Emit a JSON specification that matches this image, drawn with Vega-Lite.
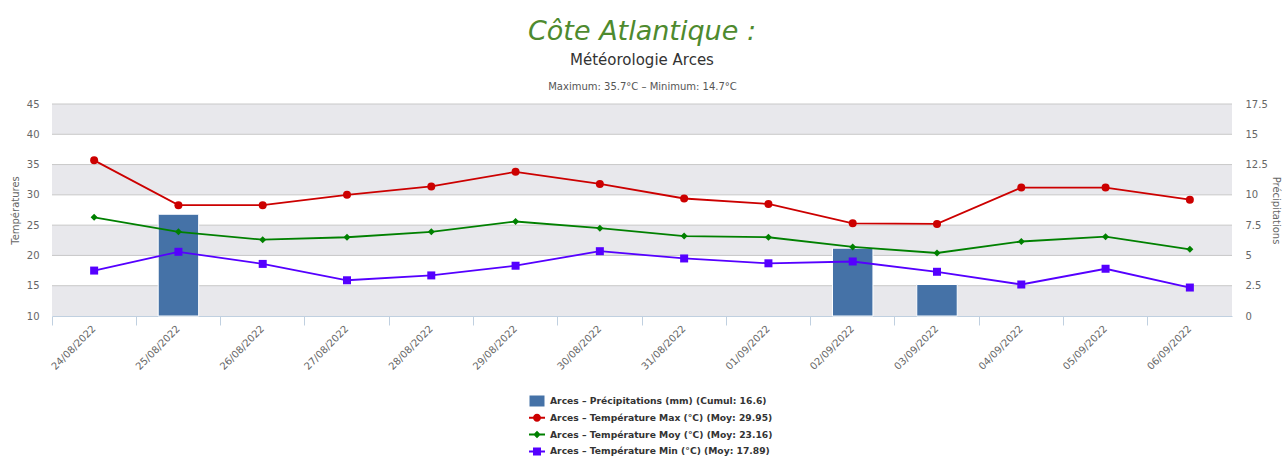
{
  "$schema": "https://vega.github.io/schema/vega-lite/v6.json",
  "width": 1180,
  "height": 212,
  "autosize": {"type": "none"},
  "padding": {"left": 52, "top": 104, "right": 53, "bottom": 143},
  "background": "#ffffff",
  "title": {
    "text": "Côte Atlantique :",
    "subtitle": "Météorologie Arces",
    "font": "DejaVu Sans",
    "fontSize": 27,
    "fontStyle": "italic",
    "fontWeight": "normal",
    "color": "#4E8A2E",
    "subtitleFont": "DejaVu Sans",
    "subtitleFontSize": 15,
    "subtitleColor": "#333333",
    "subtitlePadding": 7,
    "anchor": "middle",
    "offset": 12
  },
  "config": {
    "font": "DejaVu Sans",
    "view": {"stroke": null},
    "legend": {
      "orient": "none",
      "legendX": 480,
      "legendY": 292,
      "direction": "vertical",
      "title": null,
      "labelFont": "DejaVu Sans",
      "labelFontSize": 9.2,
      "labelFontWeight": "bold",
      "labelColor": "#333333",
      "labelLimit": 500,
      "symbolSize": 100,
      "rowPadding": 5.8,
      "labelOffset": 8,
      "symbolStrokeWidth": 0
    }
  },
  "datasets": {
    "meteo": [
      {"date": "24/08/2022", "precip": null, "tmax": 35.7, "tmoy": 26.3, "tmin": 17.5},
      {"date": "25/08/2022", "precip": 8.4, "tmax": 28.3, "tmoy": 23.9, "tmin": 20.6},
      {"date": "26/08/2022", "precip": null, "tmax": 28.3, "tmoy": 22.6, "tmin": 18.6},
      {"date": "27/08/2022", "precip": null, "tmax": 30.0, "tmoy": 23.0, "tmin": 15.9},
      {"date": "28/08/2022", "precip": null, "tmax": 31.4, "tmoy": 23.9, "tmin": 16.7},
      {"date": "29/08/2022", "precip": null, "tmax": 33.8, "tmoy": 25.6, "tmin": 18.3},
      {"date": "30/08/2022", "precip": null, "tmax": 31.8, "tmoy": 24.5, "tmin": 20.7},
      {"date": "31/08/2022", "precip": null, "tmax": 29.4, "tmoy": 23.2, "tmin": 19.5},
      {"date": "01/09/2022", "precip": null, "tmax": 28.5, "tmoy": 23.0, "tmin": 18.7},
      {"date": "02/09/2022", "precip": 5.6, "tmax": 25.3, "tmoy": 21.4, "tmin": 19.0},
      {"date": "03/09/2022", "precip": 2.6, "tmax": 25.2, "tmoy": 20.4, "tmin": 17.3},
      {"date": "04/09/2022", "precip": null, "tmax": 31.2, "tmoy": 22.3, "tmin": 15.2},
      {"date": "05/09/2022", "precip": null, "tmax": 31.2, "tmoy": 23.1, "tmin": 17.8},
      {"date": "06/09/2022", "precip": null, "tmax": 29.2, "tmoy": 21.0, "tmin": 14.7}
    ],
    "bandes": [
      {"lo": 10, "hi": 15},
      {"lo": 20, "hi": 25},
      {"lo": 30, "hi": 35},
      {"lo": 40, "hi": 45}
    ]
  },
  "layer": [
    {
      "data": {"name": "bandes"},
      "mark": {"type": "rect", "fill": "#E8E8EC"},
      "encoding": {
        "y": {
          "field": "lo", "type": "quantitative",
          "scale": {"domain": [10, 45], "nice": false, "zero": false},
          "axis": {
            "orient": "left",
            "values": [10, 15, 20, 25, 30, 35, 40, 45],
            "title": "Températures",
            "titleFontSize": 10,
            "titleFontWeight": "normal",
            "titleColor": "#666666",
            "titlePadding": 6,
            "labelFontSize": 10,
            "labelColor": "#666666",
            "labelPadding": 13,
            "ticks": false,
            "tickSize": 0,
            "domain": false,
            "grid": false
          }
        },
        "y2": {"field": "hi"}
      }
    },
    {
      "data": {"name": "bandes"},
      "transform": [{"filter": "datum.lo > 10"}],
      "mark": {"type": "rule", "color": "#C8C8C8", "strokeWidth": 1},
      "encoding": {
        "y": {"field": "lo", "type": "quantitative", "scale": {"domain": [10, 45], "nice": false, "zero": false}, "axis": null}
      }
    },
    {
      "data": {"name": "bandes"},
      "mark": {"type": "rule", "color": "#C8C8C8", "strokeWidth": 1},
      "encoding": {
        "y": {"field": "hi", "type": "quantitative", "scale": {"domain": [10, 45], "nice": false, "zero": false}, "axis": null}
      }
    },
    {
      "data": {"name": "meteo"},
      "mark": {"type": "bar", "color": "#4572A7", "stroke": "#ffffff", "strokeWidth": 1, "width": {"band": 0.48}},
      "encoding": {
        "x": {
          "field": "date", "type": "nominal", "sort": null,
          "scale": {
            "type": "band", "paddingInner": 0, "paddingOuter": 0,
            "domain": ["24/08/2022", "25/08/2022", "26/08/2022", "27/08/2022", "28/08/2022", "29/08/2022", "30/08/2022", "31/08/2022", "01/09/2022", "02/09/2022", "03/09/2022", "04/09/2022", "05/09/2022", "06/09/2022"]
          },
          "axis": {
            "orient": "top",
            "title": "Maximum: 35.7°C – Minimum: 14.7°C",
            "titleFontSize": 10,
            "titleFontWeight": "normal",
            "titleColor": "#555555",
            "titlePadding": 13,
            "labels": false,
            "ticks": false,
            "domain": false,
            "grid": false
          }
        },
        "y": {
          "field": "precip", "type": "quantitative",
          "scale": {"domain": [0, 17.5], "nice": false, "zero": true},
          "axis": {
            "orient": "right",
            "values": [0, 2.5, 5, 7.5, 10, 12.5, 15, 17.5],
            "format": ".1~f",
            "title": "Précipitations",
            "titleFontSize": 10,
            "titleFontWeight": "normal",
            "titleColor": "#666666",
            "titlePadding": 3,
            "labelFontSize": 10,
            "labelColor": "#666666",
            "labelPadding": 13,
            "ticks": false,
            "tickSize": 0,
            "domain": false,
            "grid": false
          }
        }
      }
    },
    {
      "data": {"name": "meteo"},
      "mark": {"type": "line", "color": "#CC0000", "strokeWidth": 1.8,
        "point": {"shape": "circle", "size": 64, "filled": true, "color": "#CC0000"}},
      "encoding": {
        "x": {
          "field": "date", "type": "nominal", "sort": null,
          "scale": {"type": "band", "paddingInner": 0, "paddingOuter": 0},
          "axis": {
            "orient": "bottom",
            "title": null,
            "labelAngle": -45,
            "labelAlign": "right",
            "labelBaseline": "middle",
            "labelFontSize": 10,
            "labelColor": "#666666",
            "labelPadding": 2,
            "bandPosition": 0,
            "tickColor": "#C0D0E0",
            "tickSize": 9,
            "domainColor": "#C0D0E0",
            "grid": false
          }
        },
        "y": {"field": "tmax", "type": "quantitative", "scale": {"domain": [10, 45], "nice": false, "zero": false}, "axis": null}
      }
    },
    {
      "data": {"name": "meteo"},
      "mark": {"type": "line", "color": "#008000", "strokeWidth": 1.8,
        "point": {"shape": "diamond", "size": 49, "filled": true, "color": "#008000"}},
      "encoding": {
        "x": {"field": "date", "type": "nominal", "sort": null, "scale": {"type": "band", "paddingInner": 0, "paddingOuter": 0}, "axis": null},
        "y": {"field": "tmoy", "type": "quantitative", "scale": {"domain": [10, 45], "nice": false, "zero": false}, "axis": null}
      }
    },
    {
      "data": {"name": "meteo"},
      "mark": {"type": "line", "color": "#5500FF", "strokeWidth": 1.8,
        "point": {"shape": "square", "size": 64, "filled": true, "color": "#5500FF"}},
      "encoding": {
        "x": {"field": "date", "type": "nominal", "sort": null, "scale": {"type": "band", "paddingInner": 0, "paddingOuter": 0}, "axis": null},
        "y": {"field": "tmin", "type": "quantitative", "scale": {"domain": [10, 45], "nice": false, "zero": false}, "axis": null}
      }
    },
    {
      "data": {"values": []},
      "mark": {"type": "point", "filled": true, "opacity": 1},
      "encoding": {
        "color": {
          "field": "serie", "type": "nominal",
          "scale": {
            "domain": [
              "Arces – Précipitations (mm) (Cumul: 16.6)",
              "Arces – Température Max (°C) (Moy: 29.95)",
              "Arces – Température Moy (°C) (Moy: 23.16)",
              "Arces – Température Min (°C) (Moy: 17.89)"
            ],
            "range": ["#4572A7", "#CC0000", "#008000", "#5500FF"]
          },
          "legend": {"title": null}
        },
        "shape": {
          "field": "serie", "type": "nominal",
          "scale": {
            "domain": [
              "Arces – Précipitations (mm) (Cumul: 16.6)",
              "Arces – Température Max (°C) (Moy: 29.95)",
              "Arces – Température Moy (°C) (Moy: 23.16)",
              "Arces – Température Min (°C) (Moy: 17.89)"
            ],
            "range": [
              "M-1.5,-1.1L1.5,-1.1L1.5,1.1L-1.5,1.1Z",
              "M-1.6,-0.2L1.6,-0.2L1.6,0.2L-1.6,0.2Z M0.8,0A0.8,0.8,0,1,1,-0.8,0A0.8,0.8,0,1,1,0.8,0Z",
              "M-1.6,-0.2L1.6,-0.2L1.6,0.2L-1.6,0.2Z M0,-0.75L0.75,0L0,0.75L-0.75,0Z",
              "M-1.6,-0.2L1.6,-0.2L1.6,0.2L-1.6,0.2Z M-0.8,-0.8L0.8,-0.8L0.8,0.8L-0.8,0.8Z"
            ]
          },
          "legend": {"title": null}
        }
      }
    }
  ],
  "resolve": {
    "scale": {"y": "independent"},
    "axis": {"x": "independent", "y": "independent"}
  }
}
